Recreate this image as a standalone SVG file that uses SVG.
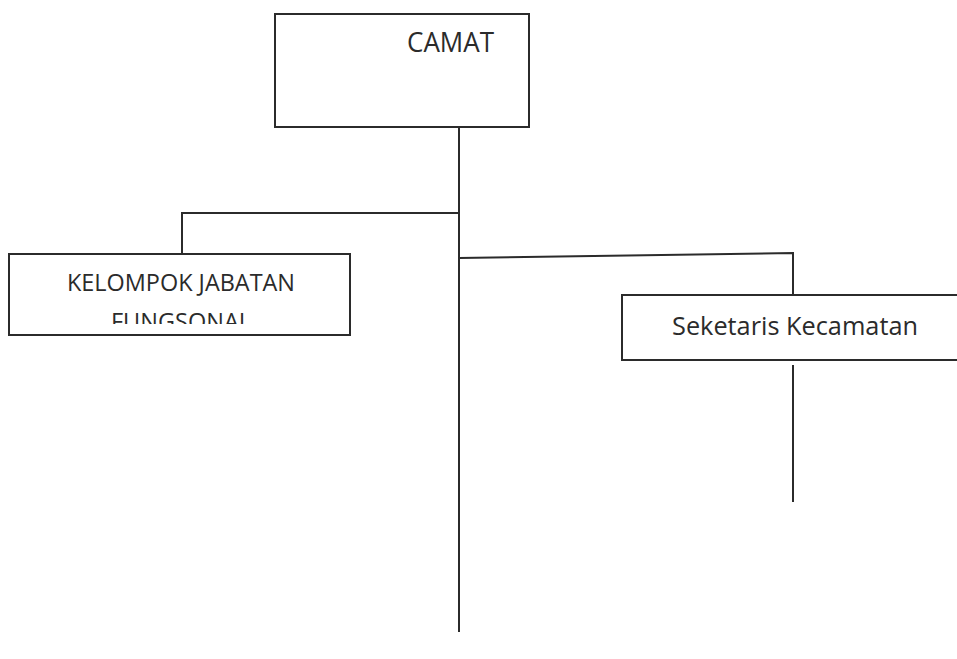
<svg xmlns="http://www.w3.org/2000/svg" width="957" height="659" viewBox="0 0 957 659">
<style>
.box{fill:#fff;stroke:#2b2b2b;stroke-width:2}
.ln{fill:none;stroke:#2b2b2b;stroke-width:2}
.t{font-family:"Open Sans","Noto Sans",sans-serif;fill:#2b2b2b;text-anchor:middle}
</style>
<defs>
<clipPath id="kclip"><rect x="10" y="255" width="339" height="69"/></clipPath>
</defs>
<rect width="957" height="659" fill="#fff"/>
<g id="connectors">
<line class="ln" x1="459" y1="128" x2="459" y2="632"/>
<line class="ln" x1="459" y1="400" x2="459" y2="632" stroke="#000"/>
<polyline class="ln" points="458,213 182,213 182,254"/>
<polyline class="ln" points="459,258 793,253 793,294"/>
<line class="ln" x1="793" y1="365" x2="793" y2="502"/>
</g>
<g id="camat">
<rect class="box" x="275" y="14" width="254" height="113"/>
<text class="t" x="450.5" y="52" font-size="26.5" textLength="87" lengthAdjust="spacingAndGlyphs">CAMAT</text>
</g>
<g id="kelompok">
<rect class="box" x="9" y="254" width="341" height="81"/>
<g clip-path="url(#kclip)">
<text class="t" x="181" y="291" font-size="23.5" textLength="228" lengthAdjust="spacingAndGlyphs">KELOMPOK JABATAN</text>
<text class="t" x="181" y="330" font-size="23.5">FUNGSONAL</text>
</g>
</g>
<g id="seketaris">
<rect class="box" x="622" y="295" width="340" height="65"/>
<text class="t" x="795" y="335" font-size="25" textLength="246" lengthAdjust="spacingAndGlyphs">Seketaris Kecamatan</text>
</g>
</svg>
